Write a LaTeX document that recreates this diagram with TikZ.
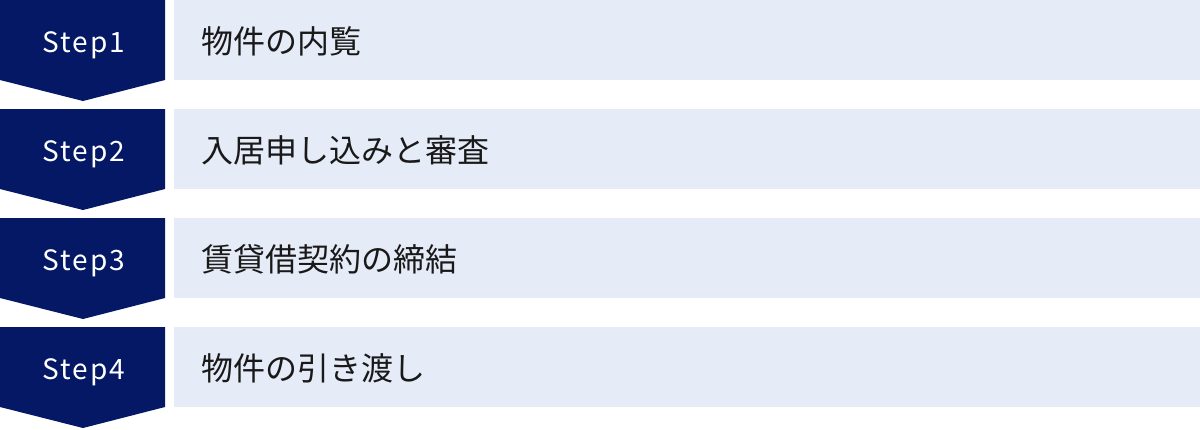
\documentclass[tikz,border=0pt]{standalone}
\usepackage{fontspec}
\setmainfont{Noto Sans CJK JP}
\definecolor{stepnavy}{HTML}{051866}
\definecolor{stepbg}{HTML}{E6EBF8}
\tikzset{
  stephead/.style={fill=stepnavy},
  stepbody/.style={fill=stepbg},
  steplabel/.style={anchor=base, inner sep=0pt, text=white, font=\fontsize{21}{24}\selectfont\addfontfeatures{LetterSpace=7}},
  steptext/.style={anchor=west, inner sep=0pt, text=black!90, font=\fontsize{24}{28}\selectfont},
}
\begin{document}
\begin{tikzpicture}[x=0.75pt,y=-0.75pt]
    \useasboundingbox (0,0) rectangle (1200,429);

    \foreach \i/\txt in {1/物件の内覧, 2/入居申し込みと審査, 3/賃貸借契約の締結, 4/物件の引き渡し} {
        \pgfmathsetmacro{\rowtop}{(\i-1)*109}
        % arrow block and text band
        \fill[stephead] (0,\rowtop) -- (165,\rowtop) -- (165,\rowtop+80) -- (83,\rowtop+101) -- (0,\rowtop+80) -- cycle;
        \fill[stepbody] (174,\rowtop) rectangle (1200,\rowtop+80);

        \node[steplabel] (step\i) at (84,\rowtop+52) {Step\i};
        \node[steptext] (task\i) at (201,\rowtop+41) {\txt};
    }

\end{tikzpicture}
\end{document}
